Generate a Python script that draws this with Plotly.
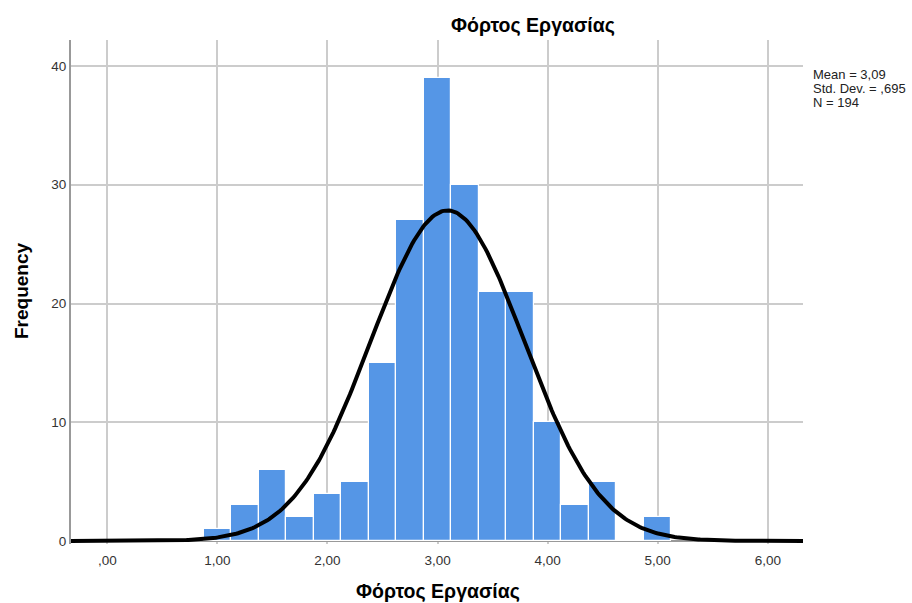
import numpy as np
import plotly.graph_objects as go

# Data
bin_centers = [1.00, 1.25, 1.50, 1.75, 2.00, 2.25, 2.50, 2.75, 3.00, 3.25,
               3.50, 3.75, 4.00, 4.25, 4.50, 4.75, 5.00]
frequencies = [1, 3, 6, 2, 4, 5, 15, 27, 39, 30, 21, 21, 10, 3, 5, 0, 2]
bin_width = 0.25
mean_val = 3.09
std_val = 0.695
n_val = 194
x_ticks = [0, 1, 2, 3, 4, 5, 6]
x_tick_labels = [",00", "1,00", "2,00", "3,00", "4,00", "5,00", "6,00"]
y_ticks = [0, 10, 20, 30, 40]
y_tick_labels = ["0", "10", "20", "30", "40"]
title_text = "Φόρτος Εργασίας"
x_title = "Φόρτος Εργασίας"
y_title = "Frequency"
stats_lines = ["Mean = 3,09", "Std. Dev. = ,695", "N = 194"]

x_range = [-0.33, 6.32]
y_range = [-0.25, 42.19]

# fitted normal curve
xc = np.linspace(x_range[0], x_range[1], 400)
yc = n_val * bin_width * np.exp(-0.5 * ((xc - mean_val) / std_val) ** 2) / (std_val * np.sqrt(2 * np.pi))

FONT = "Liberation Sans, Arial, sans-serif"
W, H = 912, 603
ML, MR, MT, MB = 71, 109, 40, 59
PW, PH = W - ML - MR, H - MT - MB


def px(x):
    return (x - ML) / PW


def py(y):
    return (H - MB - y) / PH


fig = go.Figure()
fig.add_trace(go.Bar(
    x=bin_centers, y=frequencies, width=bin_width,
    marker=dict(color="#5596e6", line=dict(color="white", width=1.2)),
    showlegend=False, hoverinfo="x+y",
))
fig.add_trace(go.Scatter(
    x=xc, y=yc, mode="lines",
    line=dict(color="black", width=4),
    showlegend=False, hoverinfo="skip",
))

annotations = [
    dict(text="<b>" + title_text + "</b>", x=px(533), y=py(25), xref="paper", yref="paper",
         showarrow=False, font=dict(size=19.5, color="black", family=FONT),
         xanchor="center", yanchor="middle"),
    dict(text="<b>" + x_title + "</b>", x=px(438), y=py(591), xref="paper", yref="paper",
         showarrow=False, font=dict(size=19.5, color="black", family=FONT),
         xanchor="center", yanchor="middle"),
    dict(text="<b>" + y_title + "</b>", x=px(21), y=py(290), xref="paper", yref="paper",
         showarrow=False, textangle=-90, font=dict(size=19, color="black", family=FONT),
         xanchor="center", yanchor="middle"),
]
for i, line in enumerate(stats_lines):
    annotations.append(dict(
        text=line, x=px(811), y=py(74 + 14 * i), xref="paper", yref="paper",
        showarrow=False, align="left", font=dict(size=13, color="#222222", family=FONT),
        xanchor="left", yanchor="middle"))

fig.update_layout(
    width=W, height=H,
    margin=dict(l=ML, r=MR, t=MT, b=MB, pad=0),
    paper_bgcolor="white", plot_bgcolor="white",
    font=dict(family=FONT, size=13, color="#333333"),
    bargap=0,
    annotations=annotations,
)

fig.update_xaxes(
    range=x_range, tickvals=x_ticks, ticktext=x_tick_labels,
    showgrid=True, gridcolor="#cccccc", gridwidth=1.5,
    showline=False, zeroline=False, ticks="", ticklen=0,
    tickfont=dict(size=13.5, color="#333333"), ticklabelstandoff=6,
    automargin=False,
)
fig.update_yaxes(
    range=y_range, tickvals=y_ticks, ticktext=y_tick_labels,
    showgrid=True, gridcolor="#cccccc", gridwidth=1.5,
    showline=True, linecolor="#999999", linewidth=2,
    zeroline=True, zerolinecolor="#999999", zerolinewidth=2,
    ticks="", tickfont=dict(size=13.5, color="#333333"),
    automargin=False,
)

fig.write_html("out.html")
